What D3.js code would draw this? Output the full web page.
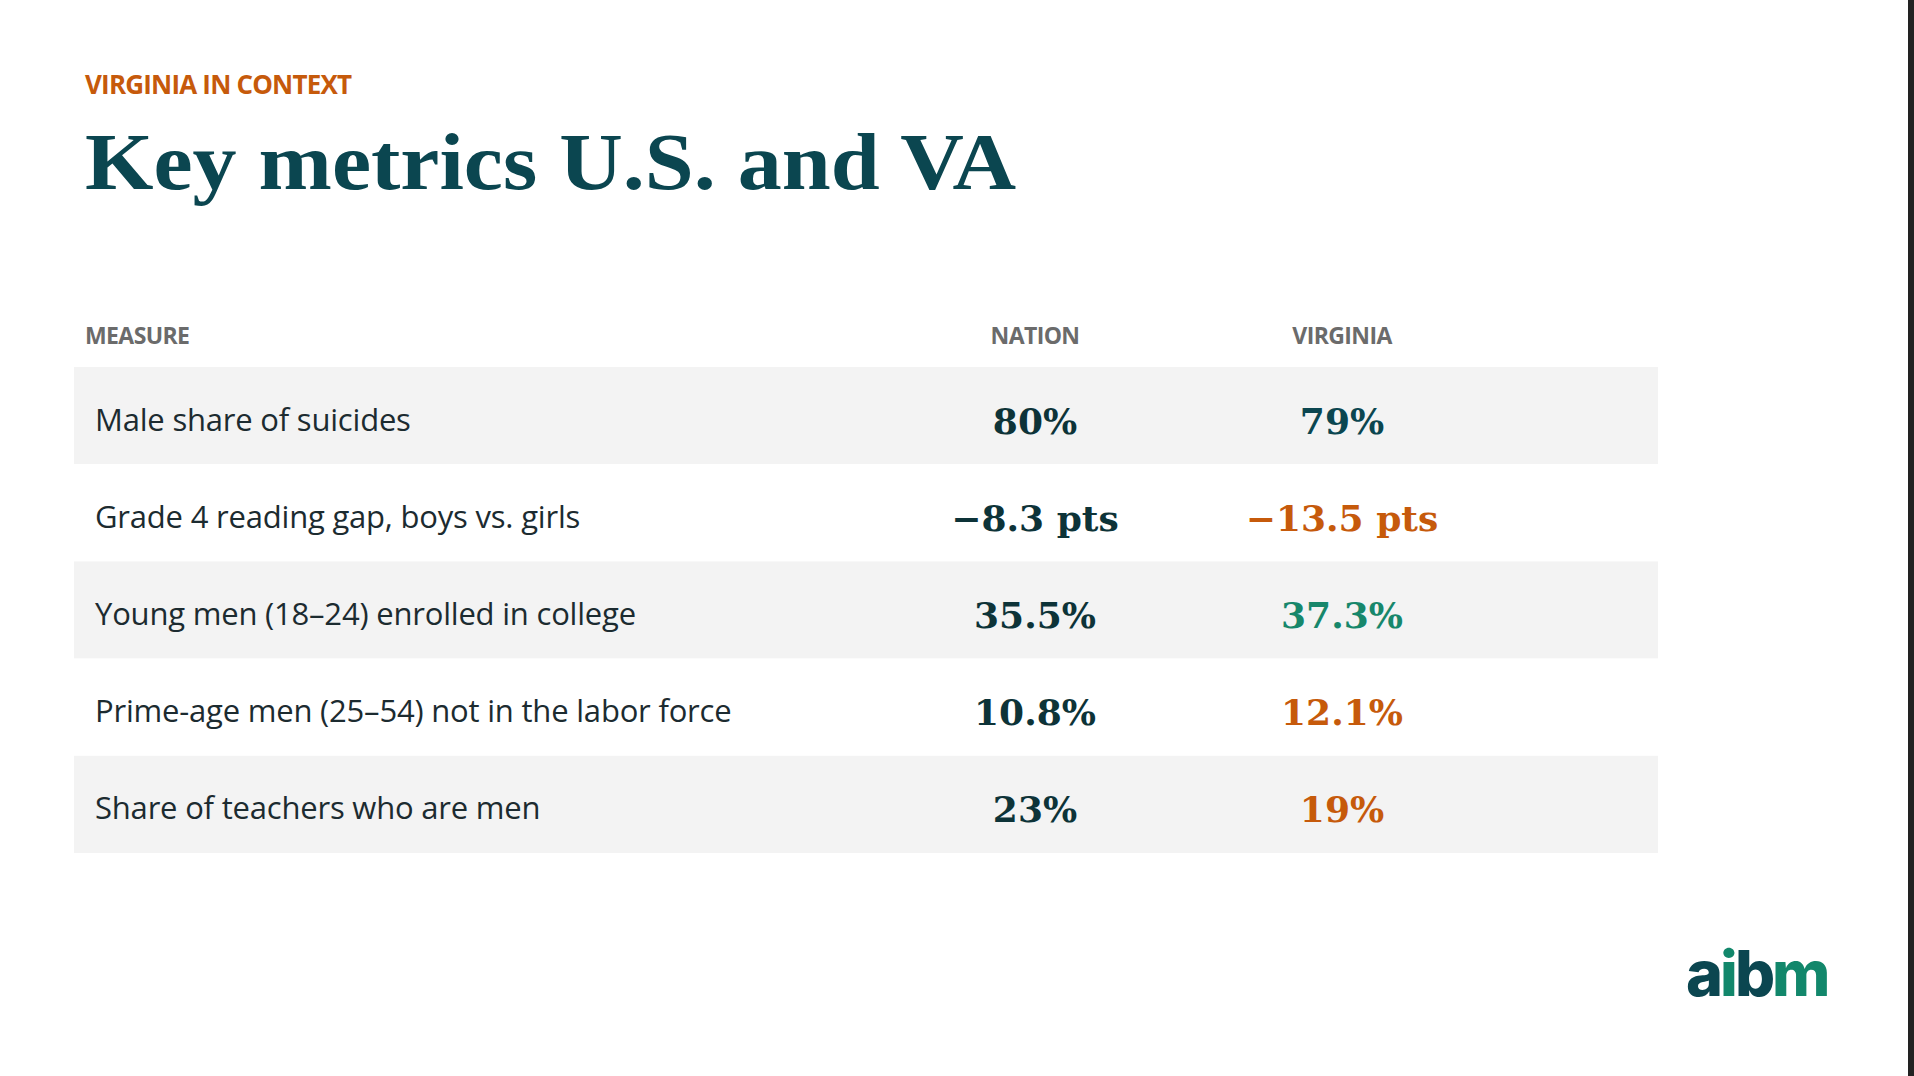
<!DOCTYPE html>
<html><head><meta charset="utf-8">
<script src="https://cdn.jsdelivr.net/npm/d3@7"></script>
<style>body{margin:0;background:#fff;overflow:hidden}</style>
</head><body>
<svg id="chart" width="1914" height="1076"></svg>
<script>
const measures = [
  "Male share of suicides",
  "Grade 4 reading gap, boys vs. girls",
  "Young men (18\u201324) enrolled in college",
  "Prime-age men (25\u201354) not in the labor force",
  "Share of teachers who are men"
];
const nationValues = ["80%", "\u22128.3 pts", "35.5%", "10.8%", "23%"];
const virginiaValues = ["79%", "\u221213.5 pts", "37.3%", "12.1%", "19%"];
// better / worse / same compared to the nation
const virginiaTone = ["same", "worse", "better", "worse", "worse"];
const columns = ["MEASURE", "NATION", "VIRGINIA"];

const toneColor = { same: "#0b4650", worse: "#c65a0b", better: "#17876b" };
const svg = d3.select("#chart");

svg.append("rect").attr("x", 1908).attr("y", 0).attr("width", 6).attr("height", 1076).attr("fill", "#222");

svg.append("text").attr("x", 85).attr("y", 94)
  .attr("font-family", "Open Sans").attr("font-weight", 700).attr("font-size", 26)
  .attr("letter-spacing", -0.8).attr("fill", "#c65a0b").text("VIRGINIA IN CONTEXT");

svg.append("text").attr("x", 85).attr("y", 189)
  .attr("font-family", "Liberation Serif").attr("font-weight", 700).attr("font-size", 80)
  .attr("textLength", 931).attr("lengthAdjust", "spacingAndGlyphs")
  .attr("fill", "#0b4650").text("Key metrics U.S. and VA");

const y = d3.scaleBand().domain(d3.range(measures.length)).range([367, 853]);
const colX = d3.scaleOrdinal().domain(columns).range([85, 1035, 1342]);

svg.selectAll(".hdr").data(columns).join("text")
  .attr("x", d => colX(d)).attr("y", 344)
  .attr("text-anchor", (d, i) => i ? "middle" : "start")
  .attr("font-family", "Open Sans").attr("font-weight", 700).attr("font-size", 23)
  .attr("letter-spacing", -0.6).attr("fill", "#6b6b6b").text(d => d);

const rows = svg.selectAll(".row").data(measures).join("g")
  .attr("transform", (d, i) => `translate(0,${y(i)})`);

rows.append("rect").attr("x", 74).attr("width", 1584).attr("height", y.bandwidth())
  .attr("fill", (d, i) => i % 2 ? "#fff" : "#f3f3f3");

rows.append("text").attr("x", 95).attr("y", y.bandwidth() / 2 + 15)
  .attr("font-family", "Open Sans").attr("font-size", 31).attr("letter-spacing", -0.2)
  .attr("fill", "#1c2b30").text(d => d);

rows.append("text").attr("x", colX("NATION")).attr("y", y.bandwidth() / 2 + 18)
  .attr("text-anchor", "middle").attr("font-family", "DejaVu Serif").attr("font-weight", 700)
  .attr("font-size", 36).attr("fill", "#0d3338").text((d, i) => nationValues[i]);

rows.append("text").attr("x", colX("VIRGINIA")).attr("y", y.bandwidth() / 2 + 18)
  .attr("text-anchor", "middle").attr("font-family", "DejaVu Serif").attr("font-weight", 700)
  .attr("font-size", 36).attr("fill", (d, i) => toneColor[virginiaTone[i]]).text((d, i) => virginiaValues[i]);

const logo = svg.append("text").attr("x", 1686).attr("y", 996)
  .attr("font-family", "Inter").attr("font-weight", 800).attr("font-size", 63).attr("letter-spacing", -3);
[["a", "#0b4650"], ["i", "#12876b"], ["b", "#0b4650"], ["m", "#12876b"]]
  .forEach(([c, col]) => logo.append("tspan").attr("fill", col).text(c));
</script>
</body></html>
